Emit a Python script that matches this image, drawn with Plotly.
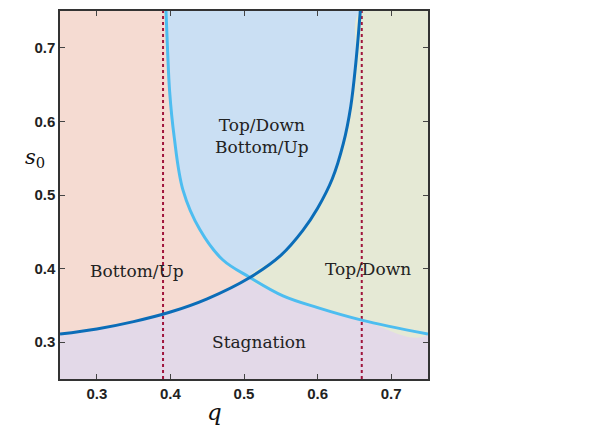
import plotly.graph_objects as go

# dark blue boundary (increasing)
dark_q = [0.25, 0.30, 0.35, 0.40, 0.45, 0.508, 0.55, 0.58, 0.60, 0.62, 0.635, 0.645, 0.652, 0.658]
dark_s = [0.311, 0.318, 0.328, 0.341, 0.359, 0.388, 0.418, 0.452, 0.482, 0.522, 0.57, 0.62, 0.68, 0.75]
# light blue boundary (decreasing)
light_q = [0.394, 0.396, 0.399, 0.405, 0.417, 0.44, 0.471, 0.508, 0.553, 0.60, 0.66, 0.75]
light_s = [0.75, 0.70, 0.64, 0.58, 0.507, 0.453, 0.412, 0.388, 0.363, 0.347, 0.33, 0.311]
dotted_q = [0.39, 0.66]
xticks = [0.3, 0.4, 0.5, 0.6, 0.7]
yticks = [0.3, 0.4, 0.5, 0.6, 0.7]
labels = [("Bottom/Up", 0.355, 0.397), ("Top/Down", 0.669, 0.40),
          ("Top/Down<br>Bottom/Up", 0.524, 0.58), ("Stagnation", 0.52, 0.30)]

ci_d = dark_q.index(0.508)
ci_l = light_q.index(0.508)
PINK, BLUE, GREEN, PURPLE = "#f5dbd2", "#cadff3", "#e5e9d5", "#e3d9e8"

fig = go.Figure()
def poly(xs, ys, col):
    fig.add_trace(go.Scatter(x=xs, y=ys, fill="toself", fillcolor=col, mode="lines",
                             line=dict(width=0, color=col, shape="spline"), hoverinfo="skip"))
poly(dark_q[:ci_d+1] + light_q[:ci_l+1][::-1] + [0.25],
     dark_s[:ci_d+1] + light_s[:ci_l+1][::-1] + [0.75], PINK)
poly(light_q[:ci_l+1] + dark_q[ci_d:], light_s[:ci_l+1] + dark_s[ci_d:], BLUE)
poly(dark_q[ci_d:] + [0.75] + light_q[ci_l:][::-1],
     dark_s[ci_d:] + [0.75] + light_s[ci_l:][::-1], GREEN)

for q in dotted_q:
    fig.add_trace(go.Scatter(x=[q, q], y=[0.25, 0.75], mode="lines",
                             line=dict(color="#a0143c", width=2, dash="dot")))
fig.add_trace(go.Scatter(x=light_q, y=light_s, mode="lines",
                         line=dict(color="#4dbdf0", width=3, shape="spline")))
fig.add_trace(go.Scatter(x=dark_q, y=dark_s, mode="lines",
                         line=dict(color="#0b6db8", width=3, shape="spline")))

for t, x, y in labels:
    fig.add_annotation(x=x, y=y, text=t, showarrow=False,
                       font=dict(family="DejaVu Serif", size=17, color="#222"))
fig.add_annotation(xref="paper", yref="paper", x=-0.1, y=0.6, text="<i>s</i><sub>0</sub>",
                   showarrow=False, font=dict(family="DejaVu Serif", size=21, color="#111"))
fig.add_annotation(xref="paper", yref="paper", x=0.42, y=-0.13, text="<i>q</i>",
                   showarrow=False, font=dict(family="DejaVu Serif", size=23, color="#111"))

ax = dict(ticks="inside", ticklen=5, tickcolor="#444", showline=True, linecolor="#333",
          linewidth=1.5, mirror="ticks", showgrid=False, zeroline=False,
          tickfont=dict(family="Liberation Sans", size=15, color="#222", weight="bold"))
fig.update_layout(width=608, height=438, showlegend=False, plot_bgcolor=PURPLE,
                  paper_bgcolor="white", margin=dict(l=52, r=188, t=1, b=67),
                  xaxis=dict(range=[0.25, 0.75], tickvals=xticks, ticktext=[str(v) for v in xticks], **ax),
                  yaxis=dict(range=[0.25, 0.75], tickvals=yticks, ticktext=[str(v) for v in yticks], **ax))
fig.write_html("out.html")
